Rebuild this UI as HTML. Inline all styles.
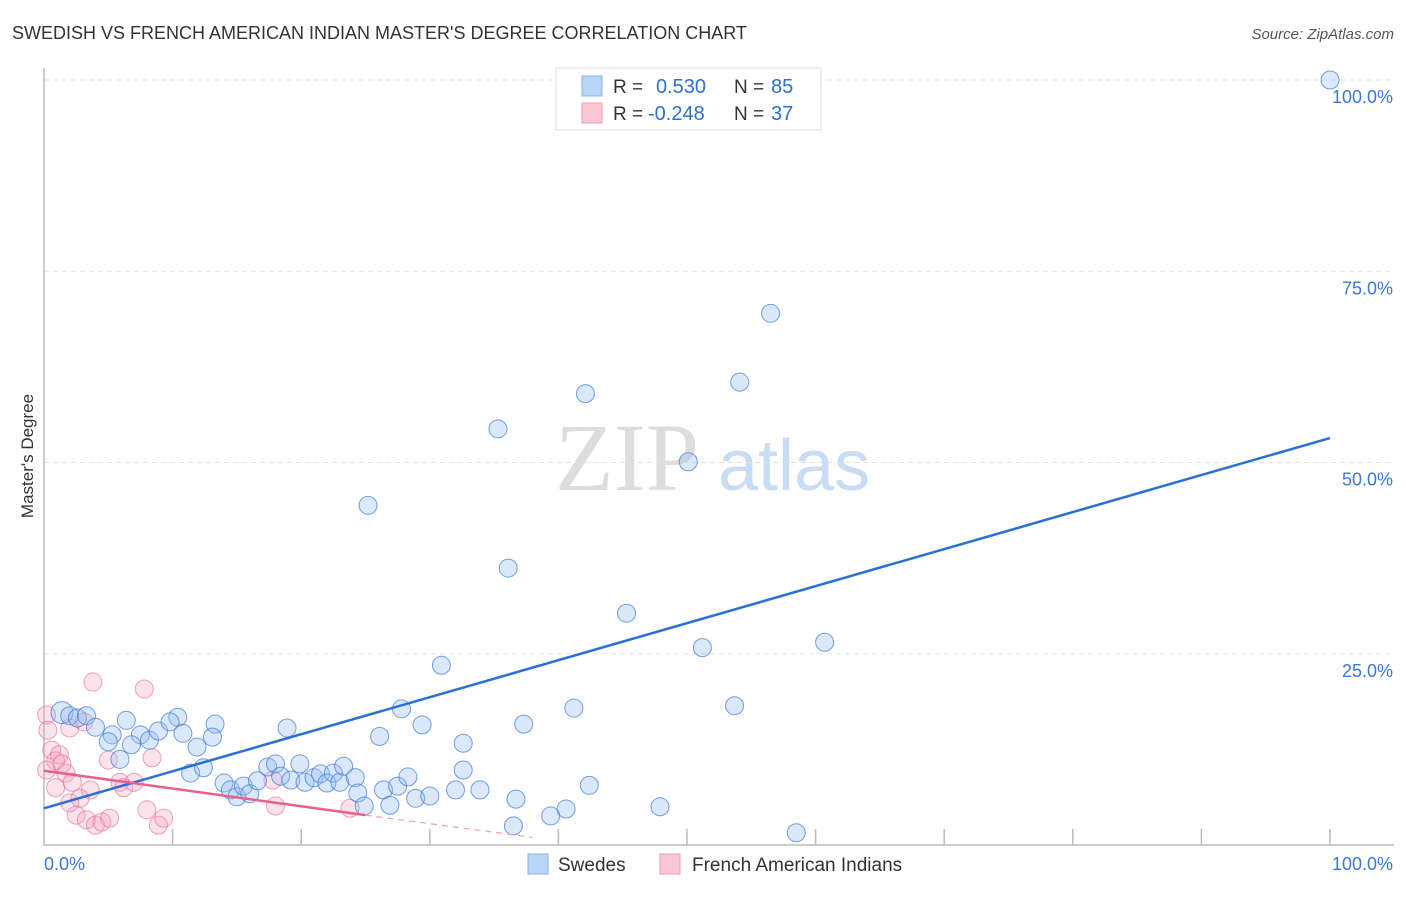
<!DOCTYPE html>
<html><head><meta charset="utf-8"><style>
body{margin:0;background:#fff;font-family:"Liberation Sans",sans-serif;}
svg text{font-family:"Liberation Sans",sans-serif;}
</style></head><body>
<svg width="1406" height="892" id="chart">
<text x="12" y="39" font-size="18" fill="#333">SWEDISH VS FRENCH AMERICAN INDIAN MASTER'S DEGREE CORRELATION CHART</text>
<text x="1394" y="39" font-size="15" fill="#555" font-style="italic" text-anchor="end">Source: ZipAtlas.com</text>
<text x="33" y="456" font-size="17" fill="#333" text-anchor="middle" transform="rotate(-90 33 456)">Master's Degree</text>
<g>
<text x="555" y="490" font-size="96" fill="#ddd" font-family="Liberation Serif" style="font-family:'Liberation Serif',serif">ZIP</text>
<text x="718" y="490" font-size="72" fill="#c8dcf3">atlas</text>
</g>
<g id="grid"></g><g id="axes"></g><g id="pts"></g><g id="lines"></g>
<g>
<rect x="556" y="68" width="265" height="62" fill="#fff" stroke="#ddd"/>
<rect x="582" y="76" width="20" height="20" fill="#b8d4f6" stroke="#8ab4e8"/>
<rect x="582" y="103" width="20" height="20" fill="#f9c6d6" stroke="#ee9ab4"/>
<text x="613" y="93" font-size="19" fill="#333">R = </text><text x="656" y="93" font-size="20" fill="#2f6fd0">0.530</text>
<text x="734" y="93" font-size="19" fill="#333">N = </text><text x="771" y="93" font-size="20" fill="#2f6fd0">85</text>
<text x="613" y="120" font-size="19" fill="#333">R = </text><text x="648" y="120" font-size="20" fill="#2f6fd0">-0.248</text>
<text x="734" y="120" font-size="19" fill="#333">N = </text><text x="771" y="120" font-size="20" fill="#2f6fd0">37</text>
</g>
<g>
<rect x="528" y="854" width="20" height="20" fill="#b8d4f6" stroke="#8ab4e8"/>
<text x="558" y="871" font-size="19" fill="#333">Swedes</text>
<rect x="660" y="854" width="20" height="20" fill="#f9c6d6" stroke="#ee9ab4"/>
<text x="692" y="871" font-size="19" fill="#333">French American Indians</text>
</g>
</svg>
<script>
const yTicks=[25,50,75,100];
const yTickLabels=["25.0%","50.0%","75.0%","100.0%"];
const xTicks=[10,20,30,40,50,60,70,80,90,100];
const blueX=[100,56.5,54.1,42.1,35.3,50.1,25.2,36.1,45.3,60.7,51.2,30.9,41.2,53.7,27.8,37.3,29.4,26.1,32.6,18.9,13.3,10.4,6.4,1.4,2,2.6,3.3,4,5.3,7.5,8.2,8.9,9.8,10.8,11.9,13.1,6.8,5,5.9,11.4,12.4,14,14.5,15,15.5,16,16.6,17.4,18,18.4,19.2,19.9,20.3,21,21.5,22,22.5,23,23.3,24.2,24.4,24.9,26.4,26.9,27.5,28.3,28.9,30,32,32.6,33.9,36.7,36.5,39.4,40.6,42.4,47.9,58.5];
const blueY=[100,69.5,60.5,59,54.4,50.1,44.4,36.2,30.3,26.5,25.8,23.5,17.9,18.2,17.8,15.8,15.7,14.2,13.3,15.3,15.8,16.7,16.3,17.3,16.9,16.6,16.9,15.4,14.4,14.4,13.7,14.9,16.1,14.6,12.8,14.1,13.1,13.5,11.2,9.4,10.1,8.1,7.2,6.3,7.7,6.7,8.4,10.2,10.6,9,8.5,10.6,8.2,8.8,9.3,8.1,9.4,8.2,10.3,8.8,6.8,5.1,7.2,5.2,7.7,8.9,6.1,6.4,7.2,9.8,7.2,6,2.5,3.8,4.7,7.8,5,1.6];
const pinkX=[0.2,0.3,0.6,0.9,1.2,0.2,1.4,1.7,3.8,7.8,2,3.1,5,8.4,0.9,2.2,3.6,5.9,6.2,7,2.8,2,2.5,3.3,4,4.5,5.1,8,8.9,9.3,17.8,18,23.8];
const pinkY=[17,15,12.4,11,11.8,9.8,10.6,9.4,21.3,20.4,15.3,16.1,11.1,11.4,7.5,8.2,7.2,8.2,7.5,8.2,6.1,5.5,3.9,3.3,2.6,3,3.5,4.6,2.6,3.5,8.5,5.1,4.8];
const blueLine=[[0,4.8],[100,53.2]];
const pinkLine=[[0,9.7],[25,3.9]];
const pinkDash=[[25,3.9],[38,1.0]];
const X=v=>44+v*12.86, Y=v=>845-v*7.65;
const NS="http://www.w3.org/2000/svg";
function mk(t,a,p){const e=document.createElementNS(NS,t);for(const k in a)e.setAttribute(k,a[k]);p.appendChild(e);return e;}
const grid=document.getElementById('grid'),axes=document.getElementById('axes'),pts=document.getElementById('pts'),lines=document.getElementById('lines');
yTicks.forEach((t,i)=>{
 const g=mk('line',{x1:44,x2:1394,y1:Y(t),y2:Y(t),stroke:'#e3e3e3','stroke-dasharray':'5,4'},grid);
 
 
 const l=mk('text',{x:1393,y:Y(t)+23,'font-size':18,fill:'#3a78d4','text-anchor':'end'},axes);
 l.textContent=yTickLabels[i];
 
 
});
const ax=mk('path',{d:`M44 68 V845 H1394`,fill:'none',stroke:'#bbb','stroke-width':1.5},axes);


xTicks.forEach(t=>{
 const k=mk('line',{x1:X(t),x2:X(t),y1:829,y2:845,stroke:'#bbb','stroke-width':1.5},axes);
 
 
});
const x0=mk('text',{x:44,y:870,'font-size':18,fill:'#3a78d4'},axes);x0.textContent='0.0%';


const x1=mk('text',{x:1393,y:870,'font-size':18,fill:'#3a78d4','text-anchor':'end'},axes);x1.textContent='100.0%';


pinkX.forEach((v,i)=>{
 const c=mk('circle',{cx:X(v),cy:Y(pinkY[i]),r:9,fill:'rgba(246,160,188,0.3)',stroke:'rgba(232,110,150,0.65)','stroke-width':1},pts);
 
 
});
blueX.forEach((v,i)=>{
 const c=mk('circle',{cx:X(v),cy:Y(blueY[i]),r:i==23?11:9,fill:'rgba(150,190,240,0.35)',stroke:'rgba(60,120,210,0.7)','stroke-width':1},pts);
 
 
});
const bl=mk('line',{x1:X(blueLine[0][0]),y1:Y(blueLine[0][1]),x2:X(blueLine[1][0]),y2:Y(blueLine[1][1]),stroke:'#2a6fd6','stroke-width':2.5},lines);


const pl=mk('line',{x1:X(pinkLine[0][0]),y1:Y(pinkLine[0][1]),x2:X(pinkLine[1][0]),y2:Y(pinkLine[1][1]),stroke:'#e8608c','stroke-width':2.5},lines);


const pd=mk('line',{x1:X(pinkDash[0][0]),y1:Y(pinkDash[0][1]),x2:X(pinkDash[1][0]),y2:Y(pinkDash[1][1]),stroke:'#e8a0b8','stroke-width':1.2,'stroke-dasharray':'6,5'},lines);


</script>
</body></html>
